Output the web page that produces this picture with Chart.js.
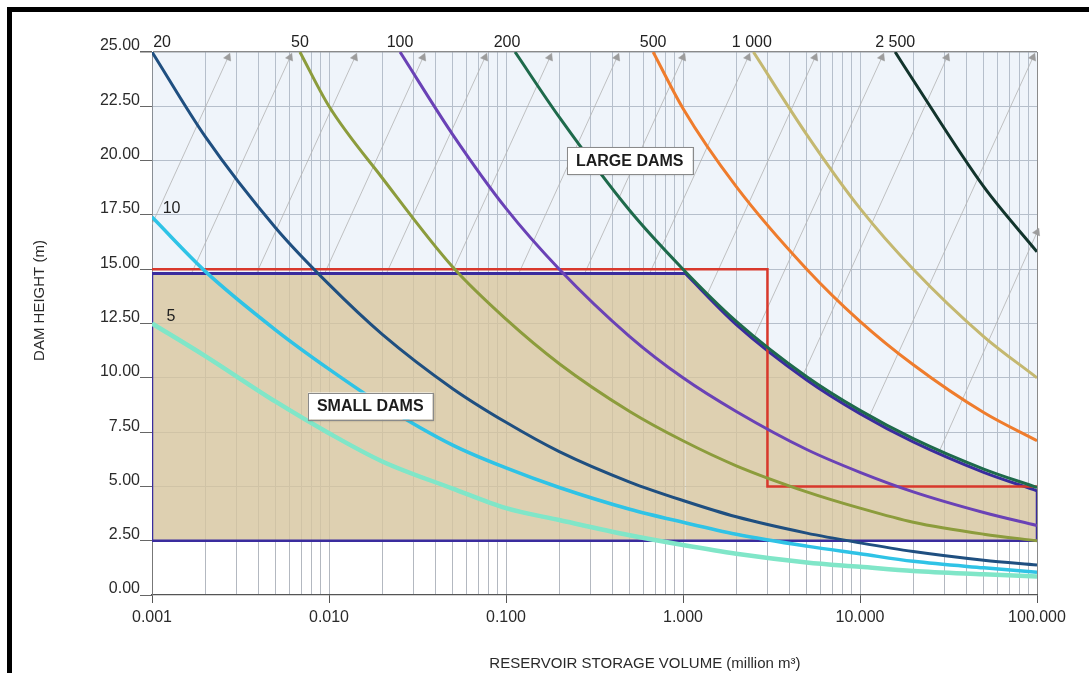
<!DOCTYPE html>
<html>
<head>
<meta charset="utf-8">
<script src="https://cdn.jsdelivr.net/npm/chart.js@4.4.0/dist/chart.umd.min.js"></script>
<style>
    html, body { margin: 0; padding: 0; background: #fff; overflow: hidden; }
    #wrap { position: relative; width: 1089px; height: 673px; overflow: hidden; }
    #frame { position: absolute; left: 7px; top: 7px; width: 1200px; height: 800px; border-top: 5px solid #000; border-left: 5px solid #000; }
    canvas { position: absolute; left: 0; top: 0; }
</style>
</head>
<body>
<div id="wrap">
    <canvas id="myChart" width="1089" height="673"></canvas>
    <div id="frame"></div>
</div>
<script>
// storage volume (million m3) where the curves are read
const volumes = [0.001, 0.002, 0.005, 0.01, 0.02, 0.05, 0.1, 0.2, 0.5, 1, 2, 5, 10, 20, 50, 100];

// dam height (m) of each H2*sqrt(V) curve, null = above the top of the chart
const h5    = [12.5, 11.0, 8.9, 7.45, 6.15, 4.9, 4.0, 3.45, 2.75, 2.3, 1.9, 1.5, 1.3, 1.1, 0.95, 0.85];
const h10   = [17.4, 14.9, 12.2, 10.4, 8.75, 6.9, 5.85, 4.95, 3.95, 3.35, 2.8, 2.25, 1.9, 1.55, 1.25, 1.05];
const h20   = [25.0, 21.1, 16.9, 14.3, 12.0, 9.5, 7.95, 6.6, 5.2, 4.35, 3.6, 2.85, 2.4, 2.0, 1.6, 1.38];
const h50   = [null, null, null, 22.5, 19.2, 15.1, 12.7, 10.65, 8.45, 7.1, 5.95, 4.75, 4.0, 3.35, 2.8, 2.5];
const h100  = [null, null, null, null, null, 21.2, 17.8, 15.0, 11.9, 10.0, 8.45, 6.7, 5.65, 4.75, 3.8, 3.2];
const h200  = [null, null, null, null, null, null, null, 22.0, 17.7, 15.0, 12.6, 10.05, 8.5, 7.2, 5.8, 4.95];
const h500  = [null, null, null, null, null, null, null, null, null, 22.4, 18.8, 15.0, 12.6, 10.6, 8.4, 7.1];
const h1000 = [null, null, null, null, null, null, null, null, null, null, null, 21.2, 17.8, 15.0, 11.9, 10.0];
const h2500 = [null, null, null, null, null, null, null, null, null, null, null, null, null, 23.7, 18.8, 15.8];

const curveNames = ['5', '10', '20', '50', '100', '200', '500', '1 000', '2 500'];
// volume where each curve enters through the top (25 m)
const entryVolumes = [null, null, null, 0.00685, 0.0252, 0.1125, 0.678, 2.5, 15.8];
const curveColors = ['#80e6c8', '#2fc3e6', '#1f4f80', '#8c9c3c', '#6a42b6', '#1e6a4b', '#ef7c2c', '#c4b870', '#12342c'];
const curveWidths = [4.5, 3.5, 3, 3, 3, 3, 3, 3, 3];

// curve labels
const labelVolumes = [0.00128, 0.00129, 0.00114, 0.00685, 0.0252, 0.1014, 0.678, 2.45, 15.8];
const labelHeights = [12.8, 17.8, 25.45, 25.45, 25.45, 25.45, 25.45, 25.45, 25.45];

// small dams zone
const tanFlatV = [0.001, 1.03];
const tanFlatH = [14.8, 14.8];
const tanCurveV = [1.03, 2, 5, 10, 20, 50, 100];
const tanCurveH = [14.8, 12.45, 9.9, 8.35, 7.05, 5.65, 4.8];
const tanFrameV = [100, 100, 0.001, 0.001];
const tanFrameH = [4.8, 2.5, 2.5, 14.8];

// red limit line
const redV = [0.001, 3, 3, 100];
const redH = [15, 15, 5, 5];

// grey reading guides with arrows (they start on the small dams boundary)
const guideStartV = [0.000747, 0.00167, 0.00389, 0.00944, 0.0211, 0.0492, 0.118, 0.278, 0.647, 1.38, 2.5, 4.75, 11.2, 28];
const guideStartH = [14.8, 14.8, 14.8, 14.8, 14.8, 14.8, 14.8, 14.8, 14.8, 13.9, 11.8, 10.1, 8.15, 6.6];
const guideEndV = [0.00269, 0.00602, 0.014, 0.034, 0.0761, 0.177, 0.424, 1.0, 2.33, 5.57, 13.3, 31.0, 94.9, 100];
const guideEndH = [24.75, 24.75, 24.75, 24.75, 24.75, 24.75, 24.75, 24.75, 24.75, 24.75, 24.75, 24.75, 24.75, 16.7];

const regionNames = ['LARGE DAMS', 'SMALL DAMS'];
const regionVolumes = [0.5, 0.0171];
const regionHeights = [20.0, 8.7];

const xMajor = [0.001, 0.01, 0.1, 1, 10, 100];
const xTickLabels = ['0.001', '0.010', '0.100', '1.000', '10.000', '100.000'];
const yTicks = [0, 2.5, 5, 7.5, 10, 12.5, 15, 17.5, 20, 22.5, 25];
const yTickLabels = ['0.00', '2.50', '5.00', '7.50', '10.00', '12.50', '15.00', '17.50', '20.00', '22.50', '25.00'];

const FONT = '"Liberation Sans", Arial, sans-serif';

const xGrid = [];
xMajor.slice(0, -1).forEach(d => {
    for (let m = 1; m < 10; m++) xGrid.push(+(d * m).toPrecision(6));
});
xGrid.push(100);

const pts = (vs, hs) => vs.map((v, i) => ({ x: v, y: hs[i] }));

const datasets = [];

// light blue background of the large dams zone
datasets.push({
    data: [{ x: 0.001, y: 25 }, { x: 100, y: 25 }],
    borderWidth: 0,
    pointRadius: 0,
    fill: { value: 2.5 },
    backgroundColor: 'rgba(190, 212, 235, 0.25)',
    order: 20
});

guideEndV.forEach((v, i) => {
    datasets.push({
        data: [{ x: guideStartV[i], y: guideStartH[i] }, { x: v, y: guideEndH[i] }],
        borderColor: '#b2b2b2',
        borderWidth: 0.8,
        pointRadius: [0, 4.5],
        pointStyle: 'triangle',
        pointRotation: 24,
        pointBackgroundColor: '#9c9c9c',
        pointBorderColor: '#9c9c9c',
        pointBorderWidth: 0.5,
        fill: false,
        clip: { left: 0, top: 6, right: 6, bottom: 0 },
        order: 15
    });
});

const tanFill = 'rgba(216, 196, 154, 0.75)';
const frameBlue = '#3a2c9e';

datasets.push({
    data: pts(tanFlatV, tanFlatH),
    borderColor: frameBlue,
    borderWidth: 3,
    pointRadius: 0,
    fill: { value: 2.5 },
    backgroundColor: tanFill,
    order: 12
});
datasets.push({
    data: pts(tanCurveV, tanCurveH),
    borderColor: frameBlue,
    borderWidth: 3,
    pointRadius: 0,
    cubicInterpolationMode: 'monotone',
    fill: { value: 2.5 },
    backgroundColor: tanFill,
    order: 12
});
datasets.push({
    data: pts(tanFrameV, tanFrameH),
    borderColor: frameBlue,
    borderWidth: 2.5,
    pointRadius: 0,
    fill: false,
    order: 11
});

datasets.push({
    data: pts(redV, redH),
    borderColor: '#d8382c',
    borderWidth: 2.5,
    pointRadius: 0,
    fill: false,
    clip: { left: 0, top: 0, right: 3, bottom: 0 },
    order: 8
});

const curveHeights = [h5, h10, h20, h50, h100, h200, h500, h1000, h2500];
curveHeights.forEach((hs, i) => {
    const data = [];
    if (entryVolumes[i] !== null) data.push({ x: entryVolumes[i], y: 25 });
    hs.forEach((h, j) => {
        if (h !== null) data.push({ x: volumes[j], y: h });
    });
    datasets.push({
        label: curveNames[i],
        data,
        borderColor: curveColors[i],
        borderWidth: curveWidths[i],
        pointRadius: 0,
        cubicInterpolationMode: 'monotone',
        fill: false,
        order: 2
    });
});

const chartText = {
    id: 'chartText',
    afterDraw(chart) {
        const { ctx, chartArea, scales: { x, y } } = chart;
        ctx.save();
        ctx.fillStyle = '#222';
        ctx.font = '16px ' + FONT;
        ctx.textAlign = 'center';
        ctx.textBaseline = 'middle';
        curveNames.forEach((name, i) => {
            ctx.fillText(name, x.getPixelForValue(labelVolumes[i]), y.getPixelForValue(labelHeights[i]));
        });

        ctx.font = 'bold 16px ' + FONT;
        regionNames.forEach((name, i) => {
            const px = x.getPixelForValue(regionVolumes[i]);
            const py = y.getPixelForValue(regionHeights[i]);
            const w = ctx.measureText(name).width + 18;
            const h = 27;
            ctx.fillStyle = '#fff';
            ctx.shadowColor = 'rgba(0,0,0,0.25)';
            ctx.shadowBlur = 2;
            ctx.shadowOffsetX = 1;
            ctx.shadowOffsetY = 1;
            ctx.fillRect(px - w / 2, py - h / 2, w, h);
            ctx.shadowColor = 'transparent';
            ctx.strokeStyle = '#8a8a8a';
            ctx.lineWidth = 1;
            ctx.strokeRect(Math.round(px - w / 2) + 0.5, Math.round(py - h / 2) + 0.5, Math.round(w), h);
            ctx.fillStyle = '#1c1c1c';
            ctx.fillText(name, px, py + 1);
        });

        // axis titles
        ctx.fillStyle = '#2a2a2a';
        ctx.font = '15px ' + FONT;
        ctx.fillText('RESERVOIR STORAGE VOLUME (million m³)', chartArea.left + (chartArea.right - chartArea.left) * 0.557, chartArea.bottom + 69);
        ctx.translate(40, (chartArea.top + chartArea.bottom) / 2 - 23);
        ctx.rotate(-Math.PI / 2);
        ctx.fillText('DAM HEIGHT (m)', 0, 0);
        ctx.restore();
    }
};

const ctx = document.getElementById('myChart').getContext('2d');

const myChart = new Chart(ctx, {
    type: 'line',
    data: { datasets },
    options: {
        responsive: false,
        animation: false,
        devicePixelRatio: 1,
        events: [],
        layout: { padding: { top: 52, right: 52, bottom: 0, left: 0 } },
        plugins: {
            legend: { display: false },
            tooltip: { enabled: false }
        },
        scales: {
            x: {
                type: 'logarithmic',
                min: 0.001,
                max: 100,
                afterBuildTicks: scale => {
                    scale.ticks = xGrid.map(v => ({ value: v, major: xMajor.includes(v) }));
                },
                afterFit: scale => { scale.height = 78; },
                border: { color: '#555', width: 1.2 },
                grid: {
                    color: c => (c.tick && c.tick.value === 100 ? '#8a8a8a' : '#b3b8c0'),
                    lineWidth: 1,
                    tickLength: 8,
                    tickColor: c => (c.tick && xMajor.includes(c.tick.value) ? '#555' : 'rgba(0,0,0,0)')
                },
                ticks: {
                    autoSkip: false,
                    maxRotation: 0,
                    padding: 5,
                    color: '#2a2a2a',
                    font: { size: 16, family: FONT },
                    callback: value => {
                        const i = xMajor.indexOf(value);
                        return i >= 0 ? xTickLabels[i] : '';
                    }
                }
            },
            y: {
                type: 'linear',
                min: 0,
                max: 25,
                afterBuildTicks: scale => {
                    scale.ticks = yTicks.map(v => ({ value: v }));
                },
                afterFit: scale => { scale.width = 152; },
                border: { color: '#777', width: 1 },
                grid: {
                    color: c => (c.tick && c.tick.value === 25 ? '#8a8a8a' : (c.tick && c.tick.value === 0 ? 'rgba(0,0,0,0)' : '#b3b8c0')),
                    lineWidth: c => (c.tick && c.tick.value === 25 ? 1.5 : 1),
                    tickLength: 12,
                    tickColor: '#666'
                },
                ticks: {
                    padding: 0,
                    labelOffset: -6,
                    color: '#2a2a2a',
                    font: { size: 16, family: FONT },
                    callback: value => yTickLabels[yTicks.indexOf(value)]
                }
            }
        }
    },
    plugins: [chartText]
});
</script>
</body>
</html>
